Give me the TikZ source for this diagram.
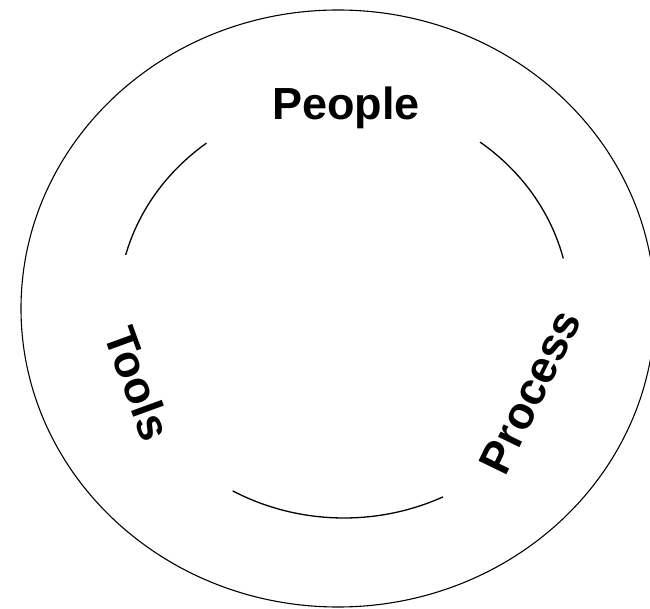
\documentclass[tikz,border=0pt]{standalone}
\usepackage{fontspec}
\setmainfont{Liberation Sans}
\begin{document}
\begin{tikzpicture}[x=1pt,y=1pt,
  ring/.style={line width=1.1pt, black},
  arcline/.style={line width=1.3pt, black},
  label/.style={inner sep=0pt, font=\bfseries\fontsize{45}{54}\selectfont}]
\useasboundingbox (0,0) rectangle (650,608);
% outer ellipse
\coordinate (oc) at (338,299.5);
\draw[ring] (oc) ellipse [x radius=317, y radius=298.5];
% inner arcs
\coordinate (ic) at (344,299);
\draw[arcline] (ic) ++(127.5:226 and 209) arc[start angle=127.5, end angle=165, x radius=226, y radius=209];
\draw[arcline] (ic) ++(14:226 and 209) arc[start angle=14, end angle=53, x radius=226, y radius=209];
\draw[arcline] (ic) ++(240.5:226 and 209) arc[start angle=240.5, end angle=296, x radius=226, y radius=209];
% labels
\node[label, anchor=base] (people) at (346,488) {People};
\node[label, rotate=-70] (tools) at (138.5,224.5) {Tools};
\node[label, rotate=64] (process) at (530,216) {Process};
\end{tikzpicture}
\end{document}
